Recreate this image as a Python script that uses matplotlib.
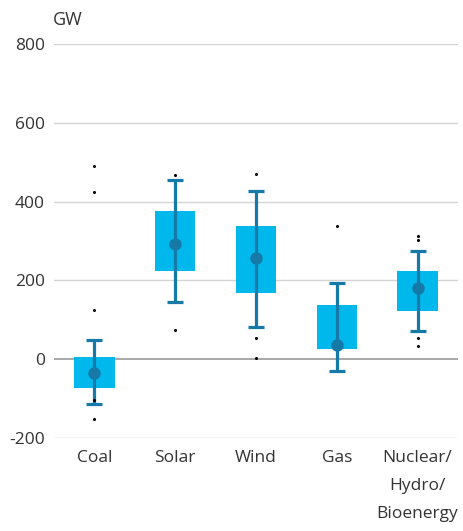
import numpy as np
import matplotlib
matplotlib.use('Agg')
import matplotlib.pyplot as plt

plt.rcParams['font.family'] = ['Open Sans', 'DejaVu Sans']
plt.rcParams['axes.unicode_minus'] = False

# Data (GW)
categories = ['Coal', 'Solar', 'Wind', 'Gas', 'Nuclear/\nHydro/\nBioenergy']
q1 = [-73, 224, 167, 25, 123]
q3 = [6, 376, 339, 137, 224]
median = [-36, 293, 257, 36, 180]
whisker_low = [-114, 146, 80, -30, 72]
whisker_high = [47, 454, 426, 193, 275]
outliers = [
    [491, 423, 124, -105, -153],
    [468, 74],
    [471, 54, 3],
    [339],
    [313, 302, 54, 34],
]

box_color = '#00B8EC'
dark = '#157AA7'
text_color = '#333333'

fig = plt.figure(figsize=(4.64, 5.31), dpi=100)
ax = fig.add_axes([0.1164, 0.1757, 0.8706, 0.7413])

x = np.arange(len(categories))

# gridlines
for v in [-200, 200, 400, 600, 800]:
    ax.axhline(v, color='#d4d4d4', lw=1.0, zorder=0)
ax.axhline(0, color='#9a9a9a', lw=1.2, zorder=0)

# boxes
ax.bar(x, np.array(q3) - np.array(q1), bottom=q1, width=0.5,
       color=box_color, zorder=2)

# whiskers + median
med = np.array(median)
ax.errorbar(x, med, yerr=[med - np.array(whisker_low), np.array(whisker_high) - med],
            fmt='none', ecolor=dark, elinewidth=2.3, capsize=6.1, capthick=2.3, zorder=3)
ax.scatter(x, med, s=80, color=dark, zorder=4, linewidths=0)

# outliers
for i, pts in enumerate(outliers):
    ax.scatter([i] * len(pts), pts, s=5, color='black', zorder=5, linewidths=0)

ax.set_xlim(-0.5, len(categories) - 0.5)
ax.set_ylim(-200, 800)
ax.set_yticks([-200, 0, 200, 400, 600, 800])
ax.set_xticks(x)
ax.set_xticklabels(categories, linespacing=2.0)
ax.tick_params(axis='y', length=0, pad=6.5, labelsize=12.5, labelcolor=text_color)
ax.tick_params(axis='x', length=0, pad=8.5, labelsize=12.5, labelcolor=text_color)
for s in ax.spines.values():
    s.set_visible(False)

fig.text(53 / 464, 1 - 25 / 531, 'GW', fontsize=13, color=text_color,
         ha='left', va='baseline')

fig.savefig('out.png', dpi=100)
